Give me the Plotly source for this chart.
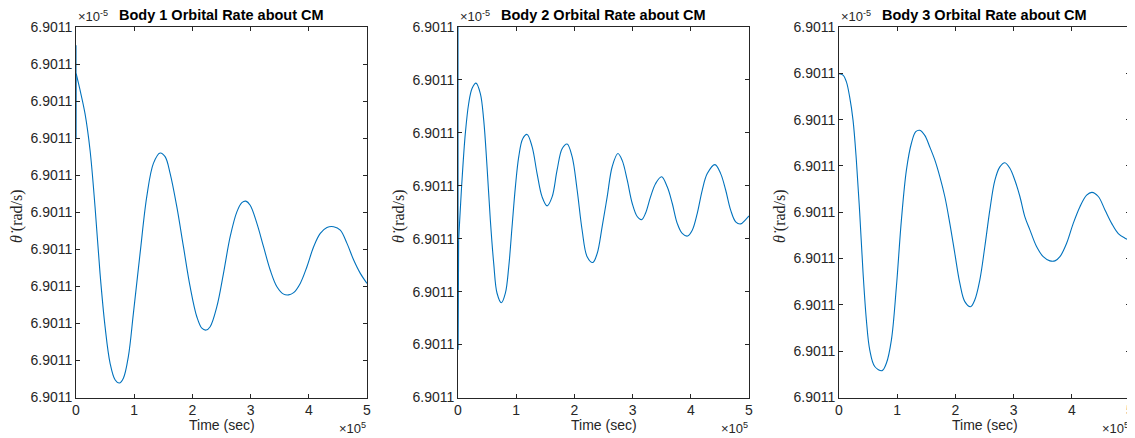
import plotly.graph_objects as go

# ---------------- data (time in units of 1e5 s, rate in y-tick steps) ----------------
t1 = [0.0, 0.001, 0.003, 0.069, 0.155, 0.241, 0.327, 0.413, 0.499, 0.585, 0.671, 0.745, 0.814, 0.900,
      0.986, 1.101, 1.216, 1.330, 1.445, 1.531, 1.617, 1.732, 1.846, 1.961, 2.076, 2.162, 2.236,
      2.305, 2.420, 2.534, 2.649, 2.764, 2.850, 2.919, 2.993, 3.108, 3.222, 3.337, 3.452, 3.567,
      3.653, 3.739, 3.853, 3.968, 4.083, 4.197, 4.312, 4.427, 4.541, 4.656, 4.771, 4.885, 5.0]
r1 = [9.51, 6.99, 8.74, 8.30, 7.66, 6.68, 5.15, 3.35, 1.92, 0.93, 0.48, 0.39, 0.52, 1.11,
      2.27, 3.89, 5.42, 6.32, 6.60, 6.50, 6.05, 5.15, 4.07, 2.99, 2.18, 1.87, 1.82,
      1.91, 2.45, 3.35, 4.34, 5.01, 5.26, 5.30, 5.19, 4.70, 4.07, 3.44, 2.99, 2.79,
      2.77, 2.83, 3.08, 3.53, 4.07, 4.43, 4.59, 4.61, 4.52, 4.16, 3.71, 3.35, 3.08]

t2 = [0.0, 0.002, 0.011, 0.069, 0.126, 0.183, 0.241, 0.310, 0.384, 0.442, 0.499, 0.556, 0.614, 0.671,
      0.745, 0.814, 0.872, 0.929, 0.986, 1.044, 1.112, 1.187, 1.273, 1.359, 1.445, 1.531, 1.617,
      1.703, 1.789, 1.875, 1.961, 2.047, 2.133, 2.219, 2.316, 2.391, 2.477, 2.563, 2.649, 2.747,
      2.821, 2.907, 2.993, 3.079, 3.154, 3.222, 3.308, 3.394, 3.498, 3.595, 3.681, 3.767, 3.853,
      3.945, 4.025, 4.111, 4.197, 4.283, 4.415, 4.513, 4.599, 4.685, 4.771, 4.857, 4.943, 5.0]
r2 = [7.00, 0.90, 2.97, 4.11, 4.99, 5.55, 5.84, 5.94, 5.74, 5.24, 4.36, 3.35, 2.53, 1.97,
      1.79, 1.97, 2.47, 3.23, 3.98, 4.55, 4.89, 4.97, 4.74, 4.23, 3.79, 3.62, 3.79,
      4.30, 4.70, 4.79, 4.55, 3.92, 3.16, 2.66, 2.55, 2.72, 3.23, 3.79, 4.36, 4.61,
      4.48, 4.11, 3.67, 3.42, 3.36, 3.48, 3.79, 4.04, 4.17, 3.98, 3.67, 3.29, 3.10,
      3.05, 3.16, 3.48, 3.92, 4.23, 4.40, 4.23, 3.92, 3.54, 3.32, 3.28, 3.36, 3.43]

t3 = [0.0, 0.069, 0.126, 0.183, 0.241, 0.298, 0.356, 0.413, 0.470, 0.528, 0.614, 0.740, 0.814, 0.900,
      0.986, 1.072, 1.158, 1.244, 1.319, 1.388, 1.474, 1.560, 1.646, 1.732, 1.818, 1.904, 1.990,
      2.076, 2.162, 2.259, 2.334, 2.420, 2.506, 2.592, 2.678, 2.764, 2.850, 2.936, 3.022, 3.108,
      3.194, 3.280, 3.394, 3.509, 3.624, 3.710, 3.796, 3.911, 4.025, 4.140, 4.255, 4.346, 4.455,
      4.570, 4.685, 4.799, 4.914, 5.0]
r3 = [6.99, 6.96, 6.82, 6.49, 5.99, 5.13, 3.98, 2.70, 1.68, 1.03, 0.67, 0.58, 0.74, 1.24,
      2.39, 3.83, 4.91, 5.49, 5.74, 5.77, 5.66, 5.41, 5.13, 4.77, 4.34, 3.76, 3.11,
      2.47, 2.07, 1.96, 2.11, 2.54, 3.26, 4.05, 4.69, 4.98, 5.07, 4.95, 4.69, 4.34,
      3.90, 3.62, 3.26, 3.04, 2.95, 2.95, 3.04, 3.33, 3.76, 4.12, 4.37, 4.43, 4.34,
      4.05, 3.76, 3.54, 3.44, 3.39]

titles = ["Body 1 Orbital Rate about CM", "Body 2 Orbital Rate about CM", "Body 3 Orbital Rate about CM"]
y_tick_counts = [11, 8, 9]
y_tick_label = "6.9011"
x_tick_vals = [0, 1, 2, 3, 4, 5]
x_tick_text = ["0", "1", "2", "3", "4", "5"]
# number of leading start-up samples (initial transient drawn with straight segments)
n_start = [3, 3, 1]

series = [(t1, r1), (t2, r2), (t3, r3)]

# ---------------- layout ----------------
OFF = 8  # page body margin of the html page
W, H = 1135 - OFF, 438 - OFF
x_px = [(76, 367), (458, 749), (839, 1130)]
y_top, y_bot = 27, 397.5
AX = "#262626"
FONT = "Liberation Sans, Arial, Helvetica, sans-serif"
BLUE = "#0072BD"


def px(x):
    return (x - OFF) / W


def py(y):
    return 1 - (y - OFF) / H


fig = go.Figure()
layout = dict(
    width=W, height=H,
    margin=dict(l=0, r=0, t=0, b=0, autoexpand=False),
    paper_bgcolor="white", plot_bgcolor="white",
    showlegend=False,
    font=dict(family=FONT, size=14, color=AX),
)
annotations = []
for i, (tt, rr) in enumerate(series):
    sfx = "" if i == 0 else str(i + 1)
    k = n_start[i]
    if k > 1:
        fig.add_trace(go.Scatter(x=tt[:k], y=rr[:k], mode="lines",
                                 line=dict(color=BLUE, width=1.1),
                                 xaxis="x" + sfx, yaxis="y" + sfx, hoverinfo="skip"))
    fig.add_trace(go.Scatter(x=tt[k - 1:], y=rr[k - 1:], mode="lines",
                             line=dict(color=BLUE, width=1.1, shape="spline", smoothing=1.0),
                             xaxis="x" + sfx, yaxis="y" + sfx, hoverinfo="skip"))
    x0, x1 = x_px[i]
    dom_x = [px(x0), px(x1)]
    dom_y = [py(y_bot), py(y_top)]
    n = y_tick_counts[i]
    layout["xaxis" + sfx] = dict(
        domain=dom_x, anchor="y" + sfx, range=[0, 5], automargin=False,
        tickvals=x_tick_vals, ticktext=x_tick_text,
        ticks="inside", ticklen=4, tickcolor=AX, tickwidth=0.8,
        showline=True, linecolor=AX, linewidth=0.8, mirror="ticks",
        showgrid=False, zeroline=False,
        tickfont=dict(size=14, color=AX, family=FONT),
    )
    layout["yaxis" + sfx] = dict(
        domain=dom_y, anchor="x" + sfx, range=[0, n - 1], automargin=False,
        tickvals=list(range(n)), ticktext=[y_tick_label] * n,
        ticks="inside", ticklen=4, tickcolor=AX, tickwidth=0.8,
        showline=True, linecolor=AX, linewidth=0.8, mirror="ticks",
        showgrid=False, zeroline=False,
        tickfont=dict(size=14, color=AX, family=FONT),
    )
    cx = px((x0 + x1) / 2)
    # title
    annotations.append(dict(text="<b>" + titles[i] + "</b>", x=cx, y=py(15),
                            xref="paper", yref="paper", showarrow=False,
                            xanchor="center", yanchor="middle",
                            font=dict(size=14.5, color="black", family=FONT)))
    # y exponent
    annotations.append(dict(text="\u00d710<sup>-5</sup>", x=px(x0), y=py(16),
                            xref="paper", yref="paper", showarrow=False,
                            xanchor="left", yanchor="middle",
                            font=dict(size=13, color=AX, family=FONT)))
    # x exponent
    annotations.append(dict(text="\u00d710<sup>5</sup>", x=px(x1 + 1), y=py(428),
                            xref="paper", yref="paper", showarrow=False,
                            xanchor="right", yanchor="middle",
                            font=dict(size=13, color=AX, family=FONT)))
    # x title
    annotations.append(dict(text="Time (sec)", x=cx, y=py(425),
                            xref="paper", yref="paper", showarrow=False,
                            xanchor="center", yanchor="middle",
                            font=dict(size=14, color=AX, family=FONT)))
    # y title
    annotations.append(dict(text="<i>\u03b8\u0307</i> (rad/s)", x=px(x0 - 59), y=py(216),
                            xref="paper", yref="paper", showarrow=False, textangle=-90,
                            xanchor="center", yanchor="middle",
                            font=dict(size=16, color=AX, family="Liberation Serif, DejaVu Serif, serif")))

layout["annotations"] = annotations
fig.update_layout(**layout)
fig.write_html("out.html")
